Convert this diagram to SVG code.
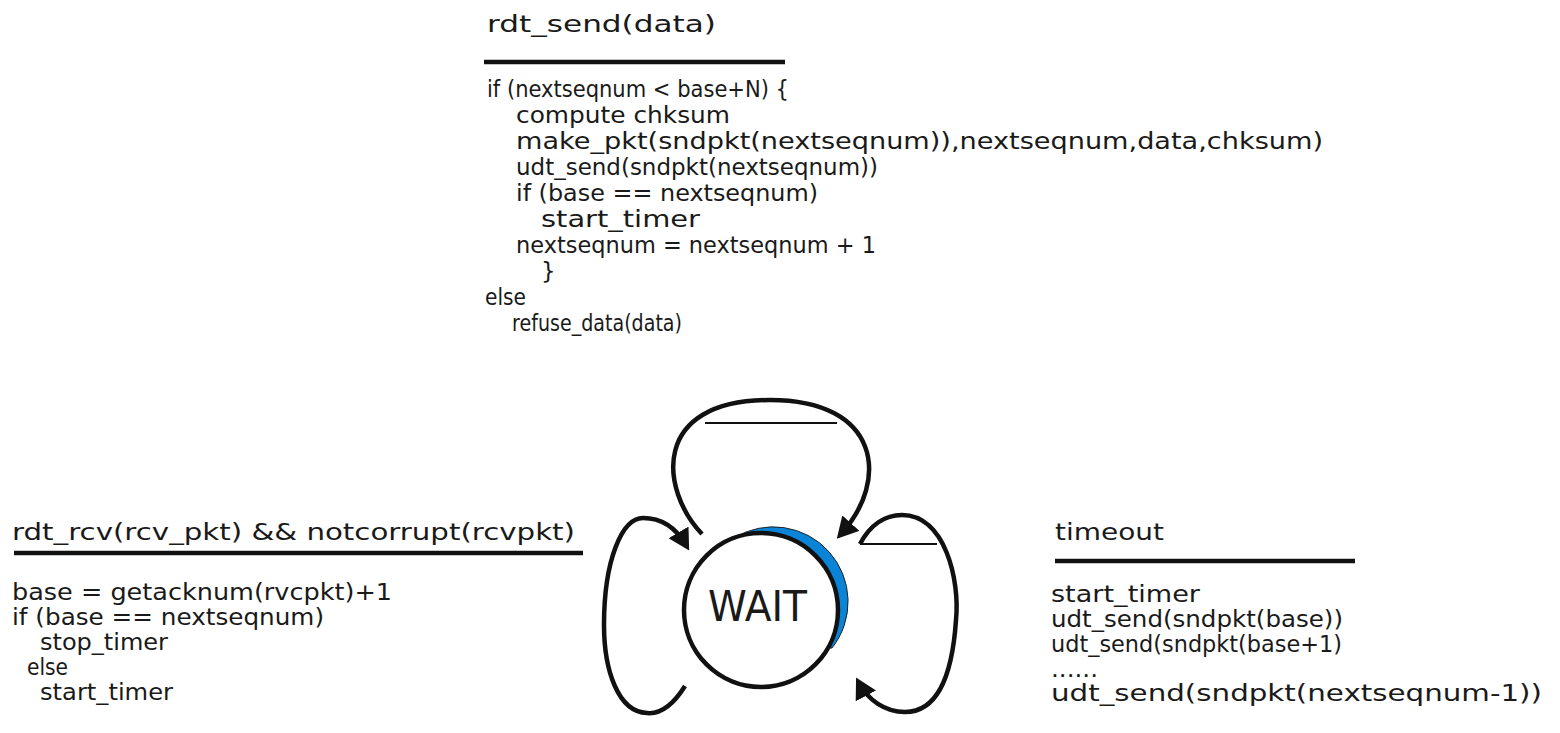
<svg xmlns="http://www.w3.org/2000/svg" width="1560" height="733" viewBox="0 0 1560 733">
<style>
text{font-family:"DejaVu Sans","Liberation Sans",sans-serif;font-size:23px;fill:#1a1a1a}
.rule{stroke:#111;stroke-width:4.5}
.chord{stroke:#111;stroke-width:2}
.loop{fill:none;stroke:#111;stroke-width:4.5}
</style>
<defs>
<marker id="arr" viewBox="0 0 20 22" refX="14" refY="11" markerWidth="21" markerHeight="23" markerUnits="userSpaceOnUse" orient="auto">
<path d="M0,0 L20,11 L0,22 z" fill="#111"/>
</marker>
</defs>
<rect width="1560" height="733" fill="#fff"/>
<g id="connectors">
<path id="loop-top" class="loop" d="M702,534 C660,490 650,400 770,400 C880,400 890,480 841,534" marker-end="url(#arr)"/>
<line class="chord" x1="705" y1="423" x2="837" y2="423"/>
<path id="loop-right" class="loop" d="M860,544 C870,525 885,515 902,515 C945,515 960,580 956,620 C952,680 935,712 905,712 C885,712 868,700 859,683" marker-end="url(#arr)"/>
<line class="chord" x1="860" y1="544" x2="937" y2="544"/>
<path id="loop-left" class="loop" d="M685,686 C670,710 657,714 647,713 C618,712 604,670 604,625 C604,560 622,518 643,518 C662,518 676,528 686,545" marker-end="url(#arr)"/>
</g>
<g id="state-wait">
<path d="M734,538 A74.8,74.8 0 0 1 832,648 L828,648 A77,77 0 0 0 734,538 Z" fill="#0a84d6" stroke="#222" stroke-width="1"/>
<circle cx="761" cy="610" r="77" fill="#fff" stroke="#111" stroke-width="4.5"/>
<text x="708" y="621" style="font-size:43px" textLength="99" lengthAdjust="spacingAndGlyphs">WAIT</text>
</g>
<g id="label-send">
<text x="487" y="32" textLength="229" lengthAdjust="spacingAndGlyphs">rdt_send(data)</text>
<line class="rule" x1="484" y1="62" x2="785" y2="62"/>
<text x="487" y="97" textLength="302" lengthAdjust="spacingAndGlyphs">if (nextseqnum &lt; base+N) {</text>
<text x="516" y="123" textLength="214" lengthAdjust="spacingAndGlyphs">compute chksum</text>
<text x="516" y="149" textLength="807" lengthAdjust="spacingAndGlyphs">make_pkt(sndpkt(nextseqnum)),nextseqnum,data,chksum)</text>
<text x="516" y="175" textLength="362" lengthAdjust="spacingAndGlyphs">udt_send(sndpkt(nextseqnum))</text>
<text x="516" y="201" textLength="302" lengthAdjust="spacingAndGlyphs">if (base == nextseqnum)</text>
<text x="541" y="227" textLength="159" lengthAdjust="spacingAndGlyphs">start_timer</text>
<text x="516" y="253" textLength="360" lengthAdjust="spacingAndGlyphs">nextseqnum = nextseqnum + 1</text>
<text x="541" y="279">}</text>
<text x="485" y="305" textLength="41" lengthAdjust="spacingAndGlyphs">else</text>
<text x="512" y="331" textLength="170" lengthAdjust="spacingAndGlyphs">refuse_data(data)</text>
</g>
<g id="label-rcv">
<text x="12" y="540" textLength="563" lengthAdjust="spacingAndGlyphs">rdt_rcv(rcv_pkt) &amp;&amp; notcorrupt(rcvpkt)</text>
<line class="rule" x1="14" y1="553" x2="583" y2="553"/>
<text x="12" y="600" textLength="380" lengthAdjust="spacingAndGlyphs">base = getacknum(rvcpkt)+1</text>
<text x="12" y="625" textLength="312" lengthAdjust="spacingAndGlyphs">if (base == nextseqnum)</text>
<text x="40" y="650" textLength="128" lengthAdjust="spacingAndGlyphs">stop_timer</text>
<text x="27" y="675" textLength="41" lengthAdjust="spacingAndGlyphs">else</text>
<text x="40" y="700" textLength="133" lengthAdjust="spacingAndGlyphs">start_timer</text>
</g>
<g id="label-timeout">
<text x="1055" y="540" textLength="109" lengthAdjust="spacingAndGlyphs">timeout</text>
<line class="rule" x1="1055" y1="561" x2="1355" y2="561"/>
<text x="1051" y="602" textLength="149" lengthAdjust="spacingAndGlyphs">start_timer</text>
<text x="1051" y="627" textLength="292" lengthAdjust="spacingAndGlyphs">udt_send(sndpkt(base))</text>
<text x="1051" y="652" textLength="291" lengthAdjust="spacingAndGlyphs">udt_send(sndpkt(base+1)</text>
<text x="1051" y="677" textLength="47" lengthAdjust="spacingAndGlyphs">......</text>
<text x="1051" y="701" textLength="491" lengthAdjust="spacingAndGlyphs">udt_send(sndpkt(nextseqnum-1))</text>
</g>
</svg>
